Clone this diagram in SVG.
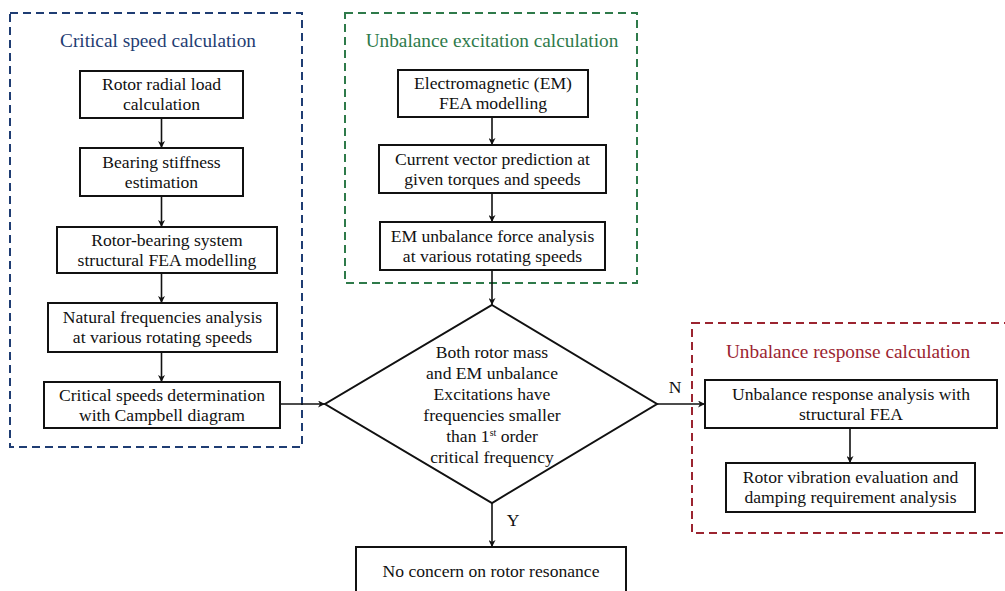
<svg xmlns="http://www.w3.org/2000/svg" width="1005" height="591" viewBox="0 0 1005 591" font-family="Liberation Serif, serif">
<style>
text{font-family:'Liberation Serif',serif;font-size:17.6px;fill:#111;text-anchor:middle}
.t{font-size:19.3px}
.box{fill:#fff;stroke:#111;stroke-width:2}
.grp{fill:none;stroke-width:2;stroke-dasharray:8 5}
.c{stroke:#111;stroke-width:1.6;fill:none;marker-end:url(#ah)}
</style>
<defs>
<marker id="ah" viewBox="0 0 10 10" refX="10" refY="5" markerWidth="7" markerHeight="7" markerUnits="userSpaceOnUse" orient="auto">
<path d="M0,0 L10,5 L0,10 L3,5 z" fill="#111"/>
</marker>
</defs>
<rect width="1005" height="591" fill="#fff"/>
<g id="group-critical">
<rect class="grp" x="10" y="13" width="292" height="434" stroke="#1f3d73"/>
<text class="t" x="158" y="47" style="fill:#1f3d73">Critical speed calculation</text>
</g>
<g id="group-excitation">
<rect class="grp" x="345" y="13" width="292" height="270" stroke="#2e7a4a"/>
<text class="t" x="492" y="47" style="fill:#2e7a4a">Unbalance excitation calculation</text>
</g>
<g id="group-response">
<rect class="grp" x="692" y="323" width="330" height="210" stroke="#9b2430"/>
<text class="t" x="848" y="358" style="fill:#9b2430">Unbalance response calculation</text>
</g>
<g id="connectors">
<line class="c" x1="161.5" y1="118" x2="161.5" y2="148"/>
<line class="c" x1="161.5" y1="196" x2="161.5" y2="227"/>
<line class="c" x1="161.5" y1="273" x2="161.5" y2="303"/>
<line class="c" x1="161.5" y1="352" x2="161.5" y2="382"/>
<line class="c" x1="280" y1="404" x2="325" y2="404"/>
<line class="c" x1="492" y1="117" x2="492" y2="145"/>
<line class="c" x1="492" y1="193" x2="492" y2="222"/>
<line class="c" x1="492" y1="270" x2="492" y2="305"/>
<line class="c" x1="657" y1="404" x2="705" y2="404"/>
<line class="c" x1="492" y1="503" x2="492" y2="547"/>
<line class="c" x1="850" y1="428" x2="850" y2="463"/>
<text x="675" y="393">N</text>
<text x="513" y="526">Y</text>
</g>
<g id="n1"><rect class="box" x="80" y="71" width="163" height="47"/><text x="161.5" y="90">Rotor radial load</text><text x="161.5" y="110">calculation</text></g>
<g id="n2"><rect class="box" x="80" y="148" width="163" height="48"/><text x="161.5" y="168">Bearing stiffness</text><text x="161.5" y="188">estimation</text></g>
<g id="n3"><rect class="box" x="57" y="227" width="220" height="46"/><text x="167" y="246">Rotor-bearing system</text><text x="167" y="266">structural FEA modelling</text></g>
<g id="n4"><rect class="box" x="48" y="303" width="229" height="49"/><text x="162.5" y="323">Natural frequencies analysis</text><text x="162.5" y="343">at various rotating speeds</text></g>
<g id="n5"><rect class="box" x="44" y="382" width="236" height="46"/><text x="162" y="401">Critical speeds determination</text><text x="162" y="421">with Campbell diagram</text></g>
<g id="g1"><rect class="box" x="398" y="70" width="190" height="47"/><text x="493" y="89">Electromagnetic (EM)</text><text x="493" y="109">FEA modelling</text></g>
<g id="g2"><rect class="box" x="379" y="145" width="227" height="48"/><text x="492.5" y="165">Current vector prediction at</text><text x="492.5" y="185">given torques and speeds</text></g>
<g id="g3"><rect class="box" x="380" y="222" width="225" height="48"/><text x="492.5" y="242">EM unbalance force analysis</text><text x="492.5" y="262">at various rotating speeds</text></g>
<g id="decision"><path class="box" d="M492,305 L657,404 L492,503 L325,404 Z"/>
<text x="492" y="358">Both rotor mass</text>
<text x="492" y="379">and EM unbalance</text>
<text x="492" y="400">Excitations have</text>
<text x="492" y="421">frequencies smaller</text>
<text x="492" y="442">than 1<tspan font-size="10" dy="-6">st</tspan><tspan dy="6"> order</tspan></text>
<text x="492" y="463">critical frequency</text>
</g>
<g id="r1"><rect class="box" x="705" y="380" width="292" height="48"/><text x="851" y="400">Unbalance response analysis with</text><text x="851" y="420">structural FEA</text></g>
<g id="r2"><rect class="box" x="726" y="463" width="249" height="49"/><text x="850.5" y="483">Rotor vibration evaluation and</text><text x="850.5" y="503">damping requirement analysis</text></g>
<g id="end"><rect class="box" x="356" y="547" width="270" height="60"/><text x="491" y="577">No concern on rotor resonance</text></g>
</svg>
